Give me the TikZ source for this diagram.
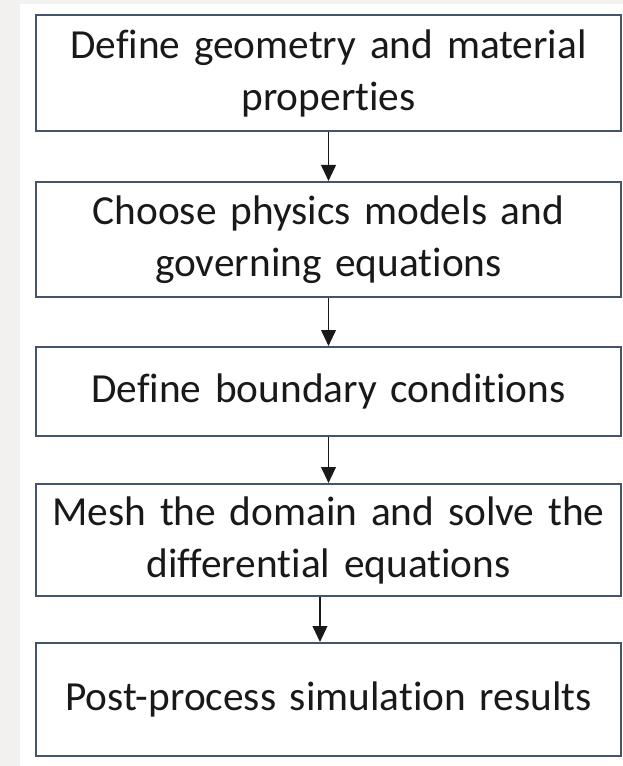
\documentclass[tikz,border=0pt]{standalone}
\usepackage{fontspec}
\setmainfont[Ligatures={NoCommon}]{Carlito}
\usepackage{tikz}
\usetikzlibrary{arrows.meta}
\usetikzlibrary{shapes,positioning}
\definecolor{boxline}{RGB}{68,84,106}
\definecolor{pagegray}{RGB}{242,241,239}
\tikzset{>={Triangle[width=11pt,length=12pt]},
  stepbox/.style={draw=boxline, line width=1.5pt, fill=white,
    minimum width=438.75pt, text width=436pt, align=center,
    inner sep=0pt, font=\fontsize{31}{39}\selectfont, text=black!90},
  flowarrow/.style={->, line width=1.4pt, black!90}}

\begin{document}
\begin{tikzpicture}[x=0.75pt,y=-0.75pt]

    % page and margins
    \fill [pagegray] (0,0) rectangle (623,766);
    \fill [white] (20,4) rectangle (623,766);
    \useasboundingbox (0,0) rectangle (623,766);

	\node [stepbox, minimum height=87pt] (geom) at (328.5,73) {Define geometry and material\\properties};
	\node [stepbox, minimum height=86.25pt] (phys) at (328.5,239.5) {Choose physics models and\\governing equations};
	\node [stepbox, minimum height=66.75pt] (bc) at (328.5,391.5) {Define boundary conditions};
	\node [stepbox, minimum height=84pt] (mesh) at (328.5,540) {Mesh the domain and solve the\\differential equations};
	\node [stepbox, minimum height=84.75pt] (post) at (328.5,699.5) {Post-process simulation results};


	\draw [flowarrow] (geom) -- (phys);
	\draw [flowarrow] (phys) -- (bc);
	\draw [flowarrow] (bc) -- (mesh);
	\draw [flowarrow] ([xshift=-6.4pt]mesh.south) -- ([xshift=-6.4pt]post.north);

\end{tikzpicture}
\end{document}
